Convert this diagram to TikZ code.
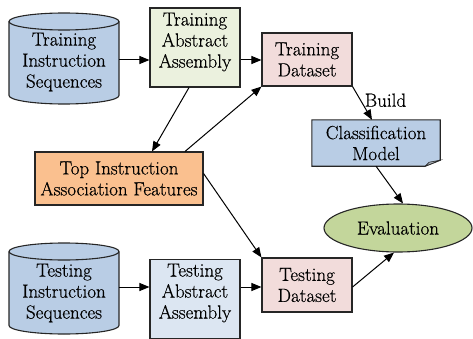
\documentclass[tikz,border=0pt]{standalone}
\usepackage{fontspec}
\newfontfamily\lmx{Latin Modern Roman}[FakeBold=0.5]
\usetikzlibrary{arrows.meta,shapes.geometric}
\definecolor{cylblue}{HTML}{B9CDE5}
\definecolor{aagreen}{HTML}{EBF1DE}
\definecolor{dspink}{HTML}{F2DCDB}
\definecolor{featorange}{HTML}{FAC08F}
\definecolor{aablue}{HTML}{DCE6F2}
\definecolor{evalgreen}{HTML}{C3D69B}
\definecolor{edge}{HTML}{262626}
\tikzset{
  box/.style={draw=edge, line width=1.1pt, rectangle, inner sep=0pt},
  txt/.style={align=center, font=\lmx\fontsize{19}{21}\selectfont, inner sep=0pt},
  hold/.style={rectangle, inner sep=0pt, draw=none},
  conn/.style={line width=1pt, -{Triangle[length=10pt,width=8pt]}},
}
\begin{document}
\begin{tikzpicture}[x=1pt,y=1pt]
\useasboundingbox (0,0) rectangle (473,338);
\clip (0,0) rectangle (473,338);
% training cylinder
\fill[cylblue] (9,316.5) -- (9,242.5) arc[start angle=180,end angle=360,x radius=55,y radius=8.5] -- (119,316.5) arc[start angle=0,end angle=180,x radius=55,y radius=8.5] -- cycle;
\draw[edge, line width=1.1pt] (9,316.5) -- (9,242.5) arc[start angle=180,end angle=360,x radius=55,y radius=8.5] -- (119,316.5);
\draw[edge, line width=1.1pt] (64,316.5) ellipse[x radius=55,y radius=8.5];
\node[hold, minimum width=110pt, minimum height=91pt] (tis) at (64,279.5) {};
\node[txt] (tist) at (64,276) {Training\\Instruction\\Sequences};
% testing cylinder
\fill[cylblue] (9,86.5) -- (9,12.5) arc[start angle=180,end angle=360,x radius=55,y radius=8.5] -- (119,86.5) arc[start angle=0,end angle=180,x radius=55,y radius=8.5] -- cycle;
\draw[edge, line width=1.1pt] (9,86.5) -- (9,12.5) arc[start angle=180,end angle=360,x radius=55,y radius=8.5] -- (119,86.5);
\draw[edge, line width=1.1pt] (64,86.5) ellipse[x radius=55,y radius=8.5];
\node[hold, minimum width=110pt, minimum height=91pt] (tsis) at (64,49.5) {};
\node[txt] (tsist) at (64,45) {Testing\\Instruction\\Sequences};
% abstract assembly boxes
\node[box, fill=aagreen, minimum width=90pt, minimum height=79pt] (taa) at (195,290.5) {};
\node[txt] (taat) at (195,296) {Training\\Abstract\\Assembly};
\node[box, fill=aablue, minimum width=90pt, minimum height=79pt] (tsaa) at (195,39) {};
\node[txt] (tsaat) at (195,45) {Testing\\Abstract\\Assembly};
% datasets
\node[box, fill=dspink, minimum width=90pt, minimum height=53pt, txt] (tds) at (307,278.5) {Training\\Dataset};
\node[box, fill=dspink, minimum width=90pt, minimum height=54pt, txt] (tsd) at (307,53) {Testing\\Dataset};
% features
\node[box, fill=featorange, minimum width=168pt, minimum height=53pt, txt] (tiaf) at (119,159.5) {Top Instruction\\Association Features};
% classification model (note)
\node[hold, minimum width=128pt, minimum height=46pt] (cm) at (376,195) {};
\filldraw[fill=cylblue, draw=edge, line width=1.1pt] (cm.north west) -- (cm.north east) -- ([yshift=6]cm.south east) -- ([xshift=-15]cm.south east) -- (cm.south west) -- cycle;
\filldraw[fill=cylblue!60!black!60, draw=edge, line width=0.6pt] ([yshift=6]cm.south east) -- ([xshift=-15]cm.south east) -- ([xshift=-11,yshift=4]cm.south east) -- cycle;
\node[txt] (cmt) at (cm.center) {Classification\\Model};
% evaluation
\node[ellipse, draw=edge, line width=1.1pt, fill=evalgreen, minimum width=148pt, minimum height=48pt, txt] (ev) at (398,110) {Evaluation};
% connectors
\draw[conn] (tis.east |- 0,278) -- (taa.west |- 0,278);
\draw[conn] (taa.east |- 0,278) -- (tds.west |- 0,278);
\draw[conn] (tsis.east |- 0,51) -- (tsaa.west |- 0,51);
\draw[conn] (tsaa.east |- 0,51) -- (tsd.west |- 0,51);
\draw[conn] ([xshift=-6]taa.south) -- ([xshift=33]tiaf.north);
\draw[conn] ([xshift=66]tiaf.north) -- (tds.south west);
\draw[conn] ([yshift=5]tiaf.east) -- (tsd.north west);
\draw[conn] (tds.south east) -- node[txt, anchor=west, xshift=2pt, yshift=3pt] (build) {Build} ([xshift=-4]cm.north);
\draw[conn] (cm.south) -- ([xshift=5]ev.north);
\draw[conn] (tsd.east |- 0,51) -- ([xshift=-4]ev.south);
\end{tikzpicture}
\end{document}
